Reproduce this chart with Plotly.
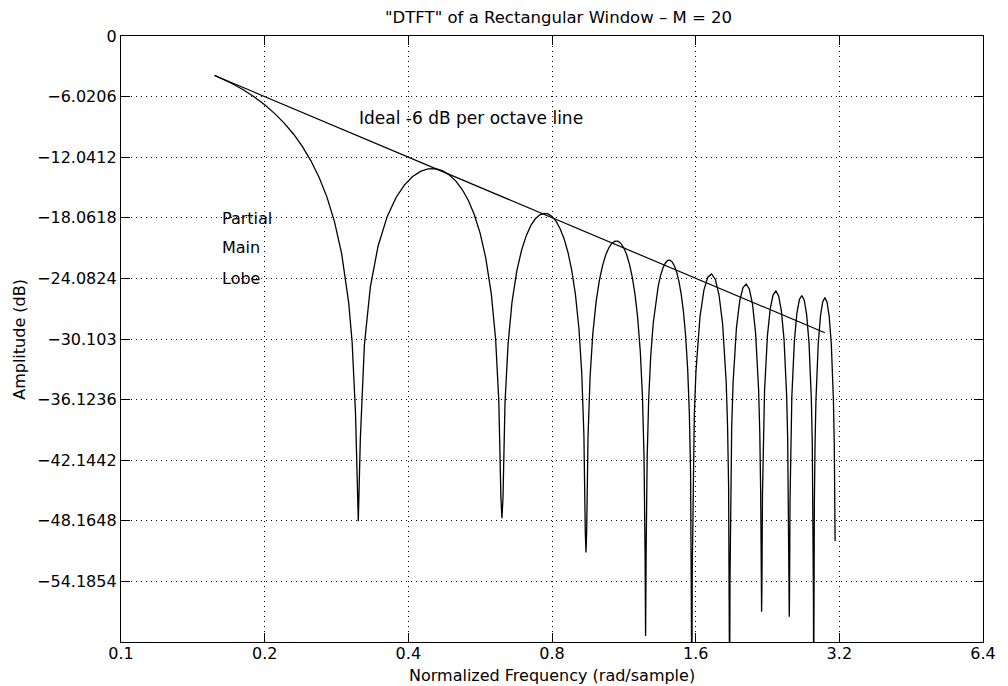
import math
import plotly.graph_objects as go

# Frequency (rad/sample) and amplitude (dB) of the window spectrum, lobe by lobe
w_main = [0.1571, 0.17, 0.18, 0.19, 0.20, 0.21, 0.22, 0.23, 0.24, 0.25, 0.26,
          0.27, 0.28, 0.29, 0.30, 0.305, 0.31]
db_main = [-3.91, -4.67, -5.32, -6.04, -6.83, -7.71, -8.68, -9.76, -10.99, -12.40,
           -14.03, -15.98, -18.41, -21.64, -26.52, -30.43, -37.42]

# Sampled null minima between lobes
w_null = [0.3142, 0.6283, 0.9425, 1.2566, 1.5708, 1.8850, 2.1991, 2.5133, 2.8274]
db_null = [-48.2, -47.9, -51.3, -59.6, -66.0, -66.0, -57.2, -57.7, -66.0]

w_lobe1 = [0.3173, 0.3236, 0.3330, 0.3456, 0.3613, 0.3770, 0.3927, 0.4084, 0.4241,
           0.4398, 0.4555, 0.4712, 0.4869, 0.5027, 0.5184, 0.5341, 0.5498, 0.5655,
           0.5812, 0.5969, 0.6095, 0.6189, 0.6252]
db_lobe1 = [-40.05, -30.68, -24.93, -20.89, -17.92, -16.04, -14.79, -13.96, -13.45,
            -13.21, -13.19, -13.38, -13.78, -14.39, -15.23, -16.32, -17.74, -19.59,
            -22.06, -25.62, -30.13, -36.23, -45.84]

w_lobe2 = [0.6315, 0.6377, 0.6472, 0.6597, 0.6754, 0.6912, 0.7069, 0.7226, 0.7383,
           0.7540, 0.7697, 0.7854, 0.8011, 0.8168, 0.8325, 0.8482, 0.8639, 0.8796,
           0.8954, 0.9111, 0.9236, 0.9331, 0.9393]
db_lobe2 = [-45.92, -36.47, -30.61, -26.42, -23.28, -21.23, -19.81, -18.82, -18.16,
            -17.77, -17.62, -17.68, -17.95, -18.44, -19.17, -20.16, -21.48, -23.23,
            -25.61, -29.09, -33.55, -39.61, -49.20]

w_lobe3 = [0.9456, 0.9519, 0.9613, 0.9739, 0.9896, 1.0053, 1.0210, 1.0367, 1.0524,
           1.0681, 1.0838, 1.0996, 1.1153, 1.1310, 1.1467, 1.1624, 1.1781, 1.1938,
           1.2095, 1.2252, 1.2378, 1.2472, 1.2535]
db_lobe3 = [-49.25, -39.77, -33.87, -29.62, -26.41, -24.29, -22.81, -21.76, -21.04,
            -20.59, -20.38, -20.38, -20.60, -21.04, -21.71, -22.66, -23.93, -25.64,
            -27.98, -31.42, -35.84, -41.88, -51.45]

w_lobe4 = [1.2598, 1.2661, 1.2755, 1.2881, 1.3038, 1.3195, 1.3352, 1.3509, 1.3666,
           1.3823, 1.3980, 1.4137, 1.4294, 1.4451, 1.4608, 1.4765, 1.4923, 1.5080,
           1.5237, 1.5394, 1.5519, 1.5614, 1.5677]
db_lobe4 = [-51.48, -41.99, -36.07, -31.79, -28.54, -26.39, -24.87, -23.78, -23.03,
            -22.55, -22.30, -22.27, -22.46, -22.87, -23.51, -24.42, -25.67, -27.35,
            -29.66, -33.07, -37.48, -43.50, -53.06]

w_lobe5 = [1.5739, 1.5802, 1.5896, 1.6022, 1.6336, 1.6650, 1.6965, 1.7279, 1.7593,
           1.7907, 1.8221, 1.8535, 1.8661, 1.8755, 1.8818]
db_lobe5 = [-53.08, -43.58, -37.64, -33.34, -27.89, -25.24, -23.96, -23.64, -24.19,
            -25.71, -28.60, -34.28, -38.67, -44.68, -54.23]

w_lobe6 = [1.8881, 1.8944, 1.9038, 1.9164, 1.9478, 1.9792, 2.0106, 2.0420, 2.0735,
           2.1049, 2.1363, 2.1677, 2.1803, 2.1897, 2.1960]
db_lobe6 = [-54.25, -44.74, -38.79, -34.48, -28.99, -26.30, -24.99, -24.64, -25.16,
            -26.64, -29.49, -35.15, -39.53, -45.53, -55.07]

w_lobe7 = [2.2023, 2.2085, 2.2180, 2.2305, 2.2620, 2.2934, 2.3248, 2.3562, 2.3876,
           2.4190, 2.4504, 2.4819, 2.4944, 2.5038, 2.5101]
db_lobe7 = [-55.09, -45.57, -39.61, -35.29, -29.77, -27.06, -25.71, -25.33, -25.83,
            -27.28, -30.11, -35.74, -40.11, -46.10, -55.64]

w_lobe8 = [2.5164, 2.5227, 2.5321, 2.5447, 2.5761, 2.6075, 2.6389, 2.6704, 2.7018,
           2.7332, 2.7646, 2.7960, 2.8086, 2.8180, 2.8243]
db_lobe8 = [-55.65, -46.13, -40.16, -35.83, -30.29, -27.55, -26.18, -25.78, -26.25,
            -27.68, -30.49, -36.09, -40.45, -46.44, -55.97]

w_lobe9 = [2.8306, 2.8368, 2.8463, 2.8588, 2.8903, 2.9217, 2.9531, 2.9845, 3.0159,
           3.0473, 3.0788, 3.1102, 3.1227, 3.1322, 3.1354]
db_lobe9 = [-55.98, -46.45, -40.48, -36.13, -30.57, -27.81, -26.42, -25.99, -26.44,
            -27.85, -30.64, -36.22, -40.57, -46.55, -50.2]

# -6 dB per octave reference line
w_ideal = [0.1571, 2.9845]
db_ideal = [-3.92, -29.48]

x_ticks = [0.1, 0.2, 0.4, 0.8, 1.6, 3.2, 6.4]
x_tick_text = ["0.1", "0.2", "0.4", "0.8", "1.6", "3.2", "6.4"]
y_ticks = [0, -6.0206, -12.0412, -18.0618, -24.0824, -30.103, -36.1236,
           -42.1442, -48.1648, -54.1854]
y_tick_text = ["0", "\u22126.0206", "\u221212.0412", "\u221218.0618", "\u221224.0824",
               "\u221230.103", "\u221236.1236", "\u221242.1442", "\u221248.1648",
               "\u221254.1854"]
y_bottom = -60.206

# Join the lobes through their nulls into one trace
lobes_w = [w_lobe1, w_lobe2, w_lobe3, w_lobe4, w_lobe5, w_lobe6, w_lobe7, w_lobe8, w_lobe9]
lobes_db = [db_lobe1, db_lobe2, db_lobe3, db_lobe4, db_lobe5, db_lobe6, db_lobe7, db_lobe8, db_lobe9]
curve_w = list(w_main)
curve_db = list(db_main)
for nw, nd, lw, ld in zip(w_null, db_null, lobes_w, lobes_db):
    curve_w += [nw] + lw
    curve_db += [nd] + ld

FONT = "DejaVu Sans"
fig = go.Figure()
fig.add_trace(go.Scatter(x=curve_w, y=curve_db, mode="lines",
                         line=dict(color="black", width=1.3), showlegend=False))
fig.add_trace(go.Scatter(x=w_ideal, y=db_ideal, mode="lines",
                         line=dict(color="black", width=1.2), showlegend=False))

axis_common = dict(
    showline=True, linecolor="black", linewidth=1.3, mirror="ticks",
    ticks="inside", ticklen=9, tickwidth=1, tickcolor="black",
    showgrid=True, gridcolor="black", gridwidth=1, griddash="1px,4px",
    zeroline=False, tickfont=dict(family=FONT, size=16, color="black"),
)
fig.update_xaxes(type="log", range=[-1, math.log10(6.4)], tickmode="array",
                 tickvals=x_ticks, ticktext=x_tick_text, ticklabelstandoff=-3,
                 **axis_common)
fig.update_yaxes(range=[y_bottom, 0], tickmode="array",
                 tickvals=y_ticks, ticktext=y_tick_text, **axis_common)

text_font = dict(family=FONT, size=16, color="black")
annotations = [
    dict(x=math.log10(0.312), y=-8.1, xref="x", yref="y", text="Ideal -6 dB per octave line",
         xanchor="left", yanchor="middle", showarrow=False,
         font=dict(family=FONT, size=17, color="black")),
    dict(x=math.log10(0.1616), y=-18.15, xref="x", yref="y", text="Partial",
         xanchor="left", yanchor="middle", showarrow=False, font=text_font),
    dict(x=math.log10(0.1616), y=-21.03, xref="x", yref="y", text="Main",
         xanchor="left", yanchor="middle", showarrow=False, font=text_font),
    dict(x=math.log10(0.1616), y=-24.1, xref="x", yref="y", text="Lobe",
         xanchor="left", yanchor="middle", showarrow=False, font=text_font),
    dict(x=0.5, y=0, xref="paper", yref="paper", yshift=-33,
         text="Normalized Frequency (rad/sample)", xanchor="center", yanchor="middle",
         showarrow=False, font=text_font),
    dict(x=-0.1186, y=0.5, xref="paper", yref="paper", text="Amplitude (dB)",
         textangle=-90, xanchor="center", yanchor="middle", showarrow=False, font=text_font),
    dict(x=0.508, y=1, xref="paper", yref="paper", yshift=19,
         text="\"DTFT\" of a Rectangular Window \u2013 M = 20", xanchor="center",
         yanchor="middle", showarrow=False, font=dict(family=FONT, size=16.5, color="black")),
]

fig.update_layout(
    width=1008, height=686,
    margin=dict(l=121, r=15, t=36, b=44),
    paper_bgcolor="white", plot_bgcolor="white",
    annotations=annotations,
    showlegend=False,
)

fig.write_html("out.html")
